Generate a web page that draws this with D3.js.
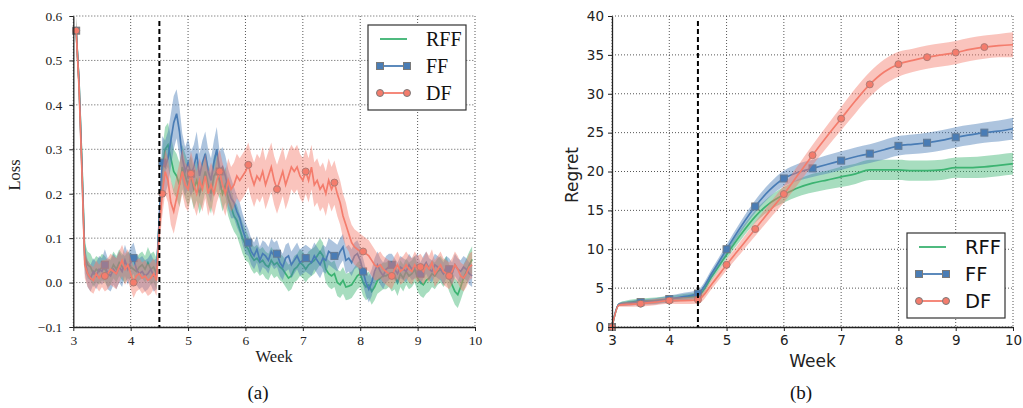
<!DOCTYPE html>
<html>
<head>
<meta charset="utf-8">
<script src="https://cdn.jsdelivr.net/npm/d3@7/dist/d3.min.js"></script>
<style>
    body { margin: 0; background: #fff; }
    svg { display: block; }
</style>
</head>
<body>
<div id="chart"></div>
<script>
// ---- data: (a) loss, one value every 0.05 week from 3.05 to 9.95 ----
const lossRFF = [
    0.567, 0.45, 0.27, 0.06, 0.04, 0.035, 0.02, 0.03, 0.025, 0.035,
    0.03, 0.02, 0.025, 0.04, 0.03, 0.045, 0.035, 0.03, 0.04, 0.035,
    0.03, 0.025, 0.035, 0.04, 0.03, 0.045, 0.03, 0.035, 0.02, 0.14,
    0.25, 0.30, 0.31, 0.28, 0.25, 0.24, 0.22, 0.26, 0.24, 0.22,
    0.24, 0.21, 0.23, 0.20, 0.22, 0.25, 0.22, 0.20, 0.24, 0.25,
    0.23, 0.20, 0.22, 0.19, 0.17, 0.15, 0.14, 0.12, 0.10, 0.085,
    0.075, 0.06, 0.05, 0.055, 0.045, 0.05, 0.04, 0.035, 0.05, 0.04,
    0.045, 0.035, 0.03, 0.02, 0.01, 0.015, 0.03, 0.035, 0.045, 0.04,
    0.03, 0.04, 0.045, 0.05, 0.06, 0.07, 0.06, 0.03, 0.02, 0.015,
    0.02, 0.0, -0.005, 0.005, -0.01, -0.008, -0.005, 0.005, 0.015, 0.02,
    0.0, -0.01, -0.005, -0.02, -0.01, 0.005, 0.01, 0.015, 0.015, 0.02,
    0.01, 0.015, 0.0, 0.02, 0.01, 0.025, 0.015, 0.02, 0.03, 0.01,
    0.0, -0.005, 0.005, 0.01, 0.02, 0.015, 0.025, 0.03, 0.02, 0.03,
    0.01, -0.005, -0.02, -0.027, -0.01, 0.01, 0.025, 0.04, 0.052
];
const lossFF = [
    0.567, 0.45, 0.26, 0.05, 0.02, 0.01, 0.025, 0.015, 0.03, 0.025,
    0.04, 0.02, 0.015, 0.03, 0.02, 0.035, 0.025, 0.05, 0.03, 0.045,
    0.055, 0.03, 0.02, 0.025, 0.015, 0.02, 0.03, 0.015, 0.02, 0.15,
    0.27, 0.26, 0.28, 0.32, 0.36, 0.38, 0.34, 0.28, 0.25, 0.27,
    0.245, 0.26, 0.29, 0.24, 0.27, 0.29, 0.25, 0.23, 0.27, 0.30,
    0.25, 0.26, 0.24, 0.21, 0.19, 0.18, 0.16, 0.145, 0.12, 0.10,
    0.09, 0.07, 0.06, 0.075, 0.05, 0.065, 0.06, 0.05, 0.07, 0.06,
    0.065, 0.045, 0.035, 0.055, 0.06, 0.04, 0.05, 0.06, 0.045, 0.05,
    0.055, 0.05, 0.045, 0.06, 0.05, 0.04, 0.055, 0.05, 0.07, 0.065,
    0.06, 0.055, 0.07, 0.08, 0.05, 0.055, 0.045, 0.06, 0.065, 0.05,
    0.025, 0.0, -0.015, 0.0, 0.025, 0.04, 0.025, 0.015, 0.03, 0.035,
    0.04, 0.03, 0.02, 0.035, 0.03, 0.025, 0.04, 0.03, 0.035, 0.04,
    0.02, 0.035, 0.045, 0.03, 0.025, 0.04, 0.035, 0.03, 0.02, 0.035,
    0.03, 0.02, 0.04, 0.03, 0.025, 0.035, 0.03, 0.02, 0.015
];
const lossDF = [
    0.567, 0.44, 0.25, 0.04, 0.02, 0.01, 0.005, 0.02, 0.01, 0.02,
    0.015, 0.02, 0.03, 0.025, 0.02, 0.035, 0.05, 0.03, 0.04, 0.02,
    0.0, 0.015, 0.02, 0.01, 0.015, 0.005, 0.01, 0.02, 0.005, 0.12,
    0.20, 0.25, 0.23, 0.18, 0.16, 0.19, 0.22, 0.25, 0.22, 0.21,
    0.245, 0.22, 0.20, 0.23, 0.21, 0.24, 0.20, 0.22, 0.20, 0.23,
    0.25, 0.22, 0.20, 0.23, 0.21, 0.22, 0.24, 0.23, 0.24, 0.25,
    0.265, 0.24, 0.22, 0.24, 0.23, 0.25, 0.22, 0.24, 0.26, 0.23,
    0.21, 0.23, 0.25, 0.22, 0.24, 0.26, 0.25, 0.26, 0.24, 0.23,
    0.25, 0.23, 0.26, 0.22, 0.23, 0.21, 0.22, 0.20, 0.23, 0.21,
    0.225, 0.20, 0.18, 0.15, 0.13, 0.11, 0.09, 0.08, 0.075, 0.07,
    0.07, 0.065, 0.06, 0.05, 0.04, 0.035, 0.04, 0.03, 0.025, 0.02,
    0.015, 0.03, 0.04, 0.025, 0.03, 0.04, 0.03, 0.025, 0.04, 0.03,
    0.035, 0.025, 0.04, 0.03, 0.045, 0.02, 0.03, 0.04, 0.025, 0.02,
    0.015, 0.025, 0.04, 0.03, 0.015, 0.01, 0.02, 0.035, 0.04
];
// band half-widths, one per quarter week (5 loss points each)
const lossBandRFF = [0.03, 0.03, 0.03, 0.03, 0.03, 0.035, 0.05, 0.05, 0.045, 0.045, 0.04, 0.035, 0.03, 0.03,
    0.03, 0.03, 0.03, 0.03, 0.03, 0.03, 0.03, 0.03, 0.03, 0.03, 0.03, 0.03, 0.03, 0.03];
const lossBandFF = [0.03, 0.03, 0.035, 0.035, 0.035, 0.035, 0.06, 0.055, 0.05, 0.05, 0.045, 0.035, 0.03, 0.03,
    0.03, 0.03, 0.03, 0.03, 0.03, 0.03, 0.03, 0.03, 0.025, 0.025, 0.025, 0.025, 0.025, 0.025];
const lossBandDF = [0.03, 0.03, 0.035, 0.035, 0.035, 0.035, 0.05, 0.05, 0.05, 0.05, 0.05, 0.05, 0.05, 0.055,
    0.055, 0.05, 0.05, 0.05, 0.05, 0.04, 0.035, 0.03, 0.03, 0.03, 0.03, 0.03, 0.03, 0.03];
const lossWeeks = d3.range(lossRFF.length).map(i => +(3.05 + i * 0.05).toFixed(2));
const lossTicks = [-0.1, 0, 0.1, 0.2, 0.3, 0.4, 0.5, 0.6];

// ---- data: (b) cumulative regret ----
const regretWeeks = [3, 3.12, 3.25, 3.5, 3.75, 4, 4.25, 4.5, 4.75, 5, 5.25, 5.5, 5.75, 6, 6.25,
    6.5, 6.75, 7, 7.25, 7.5, 7.75, 8, 8.25, 8.5, 8.75, 9, 9.25, 9.5, 9.75, 10];
const regretRFF = [0, 2.9, 3.1, 3.3, 3.4, 3.6, 3.8, 4.0, 6.6, 9.3, 11.9, 14.2, 15.9, 17.0, 17.9,
    18.5, 18.9, 19.3, 19.7, 20.2, 20.2, 20.2, 20.1, 20.1, 20.2, 20.5, 20.5, 20.6, 20.8, 21.0];
const regretFF = [0, 2.9, 3.0, 3.2, 3.3, 3.6, 3.9, 4.3, 7.0, 10.0, 12.9, 15.5, 17.6, 19.1, 19.9,
    20.4, 20.9, 21.4, 21.9, 22.3, 22.8, 23.3, 23.5, 23.7, 24.0, 24.4, 24.7, 25.0, 25.2, 25.5];
const regretDF = [0, 2.8, 2.9, 3.0, 3.2, 3.4, 3.4, 3.5, 5.6, 8.0, 10.3, 12.6, 14.9, 17.1, 19.6,
    22.1, 24.5, 26.8, 29.1, 31.2, 32.8, 33.8, 34.3, 34.7, 35.0, 35.3, 35.7, 36.0, 36.2, 36.3];
const regretBandRFF = [0, 0.2, 0.3, 0.35, 0.4, 0.4, 0.45, 0.5, 0.5, 0.6, 0.7, 0.8, 0.9, 1.0, 1.1,
    1.2, 1.2, 1.3, 1.3, 1.3, 1.3, 1.3, 1.3, 1.3, 1.3, 1.3, 1.35, 1.4, 1.4, 1.4];
const regretBandFF = [0, 0.2, 0.3, 0.35, 0.4, 0.45, 0.5, 0.5, 0.55, 0.6, 0.7, 0.8, 0.9, 1.0, 1.1,
    1.1, 1.2, 1.2, 1.2, 1.2, 1.25, 1.25, 1.25, 1.3, 1.3, 1.3, 1.3, 1.3, 1.35, 1.4];
const regretBandDF = [0, 0.2, 0.3, 0.35, 0.4, 0.4, 0.45, 0.5, 0.6, 0.7, 0.8, 0.9, 1.0, 1.1, 1.2,
    1.3, 1.4, 1.5, 1.6, 1.6, 1.6, 1.6, 1.5, 1.5, 1.5, 1.5, 1.5, 1.5, 1.5, 1.6];
const regretTicks = [0, 5, 10, 15, 20, 25, 30, 35, 40];

const weekTicks = [3, 4, 5, 6, 7, 8, 9, 10];
const seriesNames = ["RFF", "FF", "DF"];
const colors = { RFF: "#3cb371", FF: "#4a7db5", DF: "#f47c6c" };
const markerEdge = "#7a7a7a";
const switchWeek = 4.5;

const serif = "'Liberation Serif', 'Times New Roman', serif";
const sans = "'DejaVu Sans', sans-serif";

const svg = d3.select("#chart").append("svg")
    .attr("width", 1023)
    .attr("height", 408);

function drawMarker(g, name, x, y, size) {
    if (name === "FF") {
        g.append("rect")
            .attr("x", x - size / 2).attr("y", y - size / 2)
            .attr("width", size).attr("height", size)
            .attr("fill", colors.FF).attr("stroke", markerEdge).attr("stroke-width", 1);
    } else if (name === "DF") {
        g.append("circle")
            .attr("cx", x).attr("cy", y).attr("r", size / 2)
            .attr("fill", colors.DF).attr("stroke", markerEdge).attr("stroke-width", 1);
    }
}

function drawPanel(opt) {
    const g = svg.append("g");
    const x = d3.scaleLinear().domain([3, 10]).range(opt.xRange);
    const y = d3.scaleLinear().domain(opt.yDomain).range([327, 16]);

    // grid
    g.selectAll(".vgrid").data(weekTicks).enter().append("line")
        .attr("x1", d => x(d)).attr("x2", d => x(d))
        .attr("y1", y.range()[1]).attr("y2", y.range()[0])
        .attr("stroke", "#444").attr("stroke-width", 0.9).attr("stroke-dasharray", "1,2");
    g.selectAll(".hgrid").data(opt.yTicks).enter().append("line")
        .attr("x1", x(3)).attr("x2", x(10))
        .attr("y1", d => y(d)).attr("y2", d => y(d))
        .attr("stroke", "#444").attr("stroke-width", 0.9).attr("stroke-dasharray", "1,2");

    // each series: line with markers, then its band over it
    seriesNames.forEach(name => {
        const vals = opt.values[name];
        const band = opt.bands[name];
        const line = d3.line()
            .x((d, i) => x(opt.weeks[i]))
            .y(d => y(d))
            .curve(opt.curve);
        g.append("path").datum(vals)
            .attr("d", line)
            .attr("fill", "none").attr("stroke", colors[name]).attr("stroke-width", 1.7);
        vals.forEach((v, i) => {
            if (opt.isMarker(i)) drawMarker(g, name, x(opt.weeks[i]), y(v), opt.markerSize);
        });
        const area = d3.area()
            .x((d, i) => x(opt.weeks[i]))
            .y0((d, i) => y(d - opt.bandAt(band, i)))
            .y1((d, i) => y(d + opt.bandAt(band, i)))
            .curve(opt.curve);
        g.append("path").datum(vals)
            .attr("d", area)
            .attr("fill", colors[name]).attr("fill-opacity", 0.45);
    });

    // switch line
    g.append("line")
        .attr("x1", x(switchWeek)).attr("x2", x(switchWeek))
        .attr("y1", y.range()[1] + 5).attr("y2", y.range()[0])
        .attr("stroke", "#000").attr("stroke-width", 2).attr("stroke-dasharray", "5,3");

    // axes
    const yAxis = g.append("g")
        .attr("transform", `translate(${x(3)},0)`)
        .call(d3.axisLeft(y).tickValues(opt.yTicks).tickFormat(opt.yFormat).tickSize(4).tickSizeOuter(0).tickPadding(opt.tickPad));
    const xAxis = g.append("g")
        .attr("transform", `translate(0,${y.range()[0]})`)
        .call(d3.axisBottom(x).tickValues(weekTicks).tickFormat(d3.format("d")).tickSize(4).tickSizeOuter(0).tickPadding(4));
    [yAxis, xAxis].forEach(a => {
        a.select(".domain").attr("stroke", "#222").attr("stroke-width", 1.3);
        a.selectAll(".tick line").attr("stroke", "#222");
        a.selectAll("text").attr("font-family", opt.font).attr("font-size", opt.tickFont).attr("fill", "#222");
    });

    // labels
    g.append("text")
        .attr("x", (x(3) + x(10)) / 2).attr("y", opt.xLabelY)
        .attr("text-anchor", "middle")
        .attr("font-family", opt.font).attr("font-size", opt.labelFont).attr("fill", "#222")
        .text("Week");
    g.append("text")
        .attr("transform", `translate(${opt.yLabelX},175) rotate(-90)`)
        .attr("text-anchor", "middle")
        .attr("font-family", opt.font).attr("font-size", opt.labelFont).attr("fill", "#222")
        .text(opt.yLabel);
    g.append("text")
        .attr("x", opt.captionX).attr("y", 399)
        .attr("text-anchor", "middle")
        .attr("font-family", serif).attr("font-size", 19).attr("fill", "#111")
        .text(opt.caption);

    // legend
    const lg = g.append("g").attr("transform", `translate(${opt.legend[0]},${opt.legend[1]})`);
    lg.append("rect")
        .attr("width", 98).attr("height", 85)
        .attr("fill", "#fff").attr("stroke", "#333").attr("stroke-width", 1.2);
    seriesNames.forEach((name, k) => {
        const ly = 14 + k * 27;
        lg.append("line")
            .attr("x1", 12).attr("x2", 39).attr("y1", ly).attr("y2", ly)
            .attr("stroke", colors[name]).attr("stroke-width", 1.8);
        drawMarker(lg, name, 12, ly, 7);
        drawMarker(lg, name, 39, ly, 7);
        lg.append("text")
            .attr("x", opt.legendTextX).attr("y", ly + 7)
            .attr("font-family", opt.font).attr("font-size", opt.legendFont).attr("fill", "#111")
            .text(name);
    });
}

drawPanel({
    xRange: [73.3, 475],
    yDomain: [-0.1, 0.6],
    yTicks: lossTicks,
    yFormat: d3.format(".1f"),
    weeks: lossWeeks,
    values: { RFF: lossRFF, FF: lossFF, DF: lossDF },
    bands: { RFF: lossBandRFF, FF: lossBandFF, DF: lossBandDF },
    bandAt: (band, i) => band[Math.floor(i / 5)],
    isMarker: i => i % 10 === 0,
    markerSize: 7,
    curve: d3.curveLinear,
    font: serif,
    tickFont: 13.5,
    tickPad: 7,
    labelFont: 16.5,
    xLabelY: 362,
    yLabel: "Loss",
    yLabelX: 20,
    caption: "(a)",
    captionX: 258,
    legend: [368, 25],
    legendTextX: 58,
    legendFont: 20
});

drawPanel({
    xRange: [612, 1013],
    yDomain: [0, 40],
    yTicks: regretTicks,
    yFormat: d3.format("d"),
    weeks: regretWeeks,
    values: { RFF: regretRFF, FF: regretFF, DF: regretDF },
    bands: { RFF: regretBandRFF, FF: regretBandFF, DF: regretBandDF },
    bandAt: (band, i) => band[i],
    isMarker: i => regretWeeks[i] < 10 && (regretWeeks[i] * 2) % 1 === 0,
    markerSize: 7,
    curve: d3.curveMonotoneX,
    font: sans,
    tickFont: 13.5,
    tickPad: 4,
    labelFont: 17,
    xLabelY: 367,
    yLabel: "Regret",
    yLabelX: 578,
    caption: "(b)",
    captionX: 801,
    legend: [907, 233],
    legendTextX: 58,
    legendFont: 19.5
});
</script>
</body>
</html>
